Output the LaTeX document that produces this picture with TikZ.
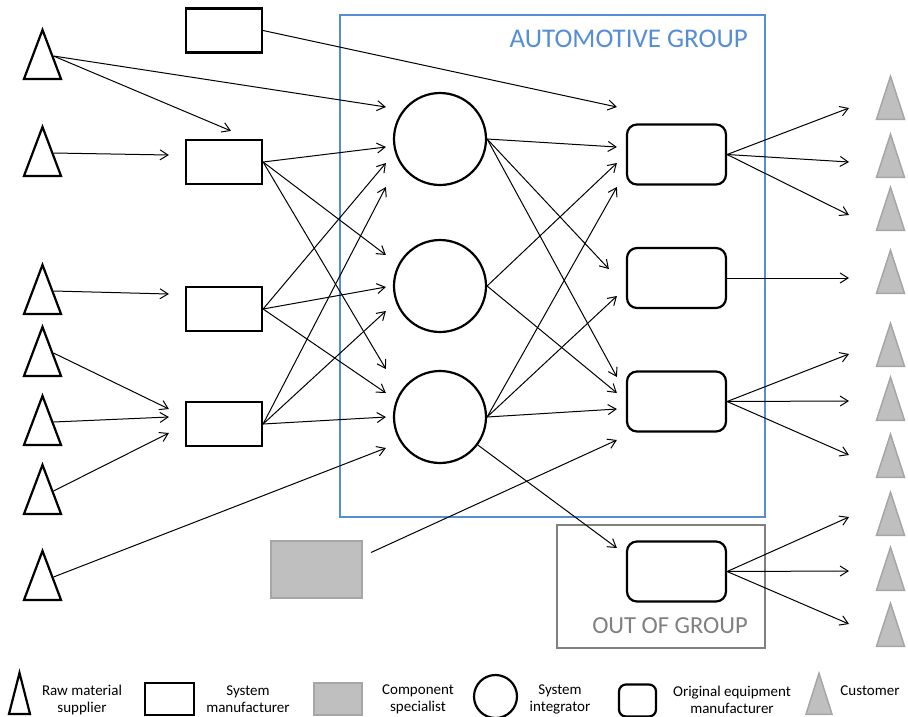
\documentclass[tikz,border=0pt]{standalone}
\usepackage{fontspec}
\setmainfont{Carlito}
\usepackage{tikz}
\usetikzlibrary{arrows.meta,shapes.geometric,positioning,calc}
\definecolor{autoblue}{RGB}{85,142,213}
\definecolor{outgray}{RGB}{128,128,128}
\definecolor{custfill}{RGB}{191,191,191}
\definecolor{custline}{RGB}{166,166,166}

\begin{document}
\begin{tikzpicture}[x=1pt,y=-1pt,>={Straight Barb[length=8pt,width=10pt]},
    rawsup/.style={draw, line width=2.2pt, isosceles triangle, isosceles triangle stretches,
      shape border rotate=90, minimum width=37pt, minimum height=49pt, inner sep=0pt, anchor=lower side},
    sysman/.style={draw, line width=2.2pt, minimum width=76pt, minimum height=44pt, inner sep=0pt},
    compspec/.style={draw=custline, fill=custfill, line width=2pt, minimum width=91pt, minimum height=57pt, inner sep=0pt},
    sysint/.style={draw, circle, line width=2.2pt, minimum size=92pt, inner sep=0pt},
    oem/.style={draw, line width=2.2pt, rounded corners=10pt, minimum width=99pt, minimum height=60pt, inner sep=0pt},
    cust/.style={draw=custline, fill=custfill, line width=1.5pt, isosceles triangle, isosceles triangle stretches,
      shape border rotate=90, minimum width=28pt, minimum height=43pt, inner sep=0pt, anchor=lower side},
    grpbox/.style={line width=2.5pt, inner sep=0pt},
    grplabel/.style={inner sep=0pt, anchor=east},
    legtext/.style={font=\fontsize{15}{17}\selectfont, align=center, inner sep=0pt},
    link/.style={->, line width=1pt}]
  \useasboundingbox (0,0) rectangle (908,716);

  % groups
  \node[grpbox, draw=autoblue, minimum width=425pt, minimum height=502pt] (grp) at (552.5,266) {};
  \node[grpbox, draw=outgray, minimum width=208pt, minimum height=123pt] (ogrp) at (661,586.5) {};
  \node[grplabel, text=autoblue, font=\fontsize{27}{29}\selectfont] (grplbl) at (748,39) {AUTOMOTIVE GROUP};
  \node[grplabel, text=outgray, font=\fontsize{24.5}{26}\selectfont] (ogrplbl) at (748,625.5) {OUT OF GROUP};

  % raw material suppliers (placed by base)
  \node[rawsup] (r1) at (42.5,80) {};
  \node[rawsup] (r2) at (42.5,177) {};
  \node[rawsup] (r3) at (42.5,315) {};
  \node[rawsup] (r4) at (42.5,377) {};
  \node[rawsup] (r5) at (42.5,446) {};
  \node[rawsup] (r6) at (42.5,515) {};
  \node[rawsup] (r7) at (42.5,601) {};

  % system manufacturers
  \node[sysman] (sm0) at (224,30.5) {};
  \node[sysman] (sm1) at (224,162) {};
  \node[sysman] (sm2) at (224,309) {};
  \node[sysman] (sm3) at (224,424) {};
  \node[compspec] (cs) at (316.5,569.5) {};

  % system integrators
  \node[sysint] (si1) at (440,139) {};
  \node[sysint] (si2) at (440,286) {};
  \node[sysint] (si3) at (440,417) {};

  % oems
  \node[oem] (oem1) at (676.5,154.5) {};
  \node[oem] (oem2) at (676.5,278) {};
  \node[oem] (oem3) at (676.5,401.5) {};
  \node[oem] (oem4) at (676.5,571.5) {};

  % customers (placed by base)
  \node[cust] (c1) at (890.5,120) {};
  \node[cust] (c2) at (890.5,178) {};
  \node[cust] (c3) at (890.5,231) {};
  \node[cust] (c4) at (890.5,294) {};
  \node[cust] (c5) at (890.5,367) {};
  \node[cust] (c6) at (890.5,421) {};
  \node[cust] (c7) at (890.5,478) {};
  \node[cust] (c8) at (890.5,536) {};
  \node[cust] (c9) at (890.5,591) {};
  \node[cust] (c10) at (890.5,647) {};

  % suppliers -> manufacturers / integrators
  \draw[link] ([shift={(11,-24)}]r1.lower side) -- ([shift={(-7,-32)}]si1.west);
  \draw[link] ([shift={(11,-24)}]r1.lower side) -- ([shift={(7,-8)}]sm1.north);
  \draw[link] ([shift={(11,-24)}]r2.lower side) -- ([shift={(-16,-7)}]sm1.west);
  \draw[link] ([shift={(11,-24)}]r3.lower side) -- ([shift={(-16,-15)}]sm2.west);
  \draw[link] ([shift={(11,-24)}]r4.lower side) -- ([shift={(-16,-15)}]sm3.west);
  \draw[link] ([shift={(11,-24)}]r5.lower side) -- ([shift={(-16,-7)}]sm3.west);
  \draw[link] ([shift={(11,-24)}]r6.lower side) -- ([shift={(-16,9)}]sm3.west);
  \draw[link] ([shift={(11,-24)}]r7.lower side) -- ([shift={(-7,31)}]si3.west);

  \draw[link] (sm0.east) -- ([shift={(-9,-47.5)}]oem1.west);
  \draw[link] (sm1.east) -- ([shift={(-7,8)}]si1.west);
  \draw[link] (sm1.east) -- ([shift={(-7,-31)}]si2.west);
  \draw[link] (sm1.east) -- ([shift={(-7,-48)}]si3.west);
  \draw[link] (sm2.east) -- ([shift={(-7,24)}]si1.west);
  \draw[link] (sm2.east) -- ([shift={(-7,1)}]si2.west);
  \draw[link] (sm2.east) -- ([shift={(-7,-24)}]si3.west);
  \draw[link] (sm3.east) -- ([shift={(-7,48)}]si1.west);
  \draw[link] (sm3.east) -- ([shift={(-7,25)}]si2.west);
  \draw[link] (sm3.east) -- ([shift={(-7,0)}]si3.west);
  \draw[link] ([shift={(8,-17)}]cs.east) -- ([shift={(-9,38.5)}]oem3.west);

  % integrators -> oems
  \draw[link] (si1.east) -- ([shift={(-9,-7.5)}]oem1.west);
  \draw[link] (si1.east) -- ([shift={(-17,-9)}]oem2.west);
  \draw[link] (si1.east) -- ([shift={(-9,-24.5)}]oem3.west);
  \draw[link] (si2.east) -- ([shift={(-9,8.5)}]oem1.west);
  \draw[link] (si2.east) -- ([shift={(-9,-8.5)}]oem3.west);
  \draw[link] (si3.east) -- ([shift={(-9,32.5)}]oem1.west);
  \draw[link] (si3.east) -- ([shift={(-9,18)}]oem2.west);
  \draw[link] (si3.east) -- ([shift={(-9,7.5)}]oem3.west);
  \draw[link] (si3) -- ([shift={(-9,-23.5)}]oem4.west);

  % oems -> customers
  \draw[link] (oem1.east) -- ([shift={(-41.5,-12)}]c1.lower side);
  \draw[link] (oem1.east) -- ([shift={(-41.5,-16)}]c2.lower side);
  \draw[link] (oem1.east) -- ([shift={(-41.5,-16)}]c3.lower side);
  \draw[link] (oem2.east) -- ([shift={(-41.5,-16)}]c4.lower side);
  \draw[link] (oem3.east) -- ([shift={(-41.5,-13)}]c5.lower side);
  \draw[link] (oem3.east) -- ([shift={(-41.5,-20)}]c6.lower side);
  \draw[link] (oem3.east) -- ([shift={(-41.5,-23)}]c7.lower side);
  \draw[link] (oem4.east) -- ([shift={(-41.5,-19)}]c8.lower side);
  \draw[link] (oem4.east) -- ([shift={(-41.5,-20)}]c9.lower side);
  \draw[link] (oem4.east) -- ([shift={(-41.5,-23)}]c10.lower side);

  % legend
  \node[rawsup, minimum width=21pt, minimum height=41pt] (lraw) at (19.5,715) {};
  \node[legtext] (lrawtxt) at (82,699.5) {Raw material\\supplier};
  \node[sysman, minimum width=49pt, minimum height=32pt] (lsm) at (169.5,699) {};
  \node[legtext] (lsmtxt) at (248,699.5) {System\\manufacturer};
  \node[compspec, minimum width=48pt, minimum height=32pt] (lcs) at (338,699) {};
  \node[legtext] (lcstxt) at (418,699.5) {Component\\specialist};
  \node[sysint, minimum size=43pt] (lsi) at (495.5,696.5) {};
  \node[legtext] (lsitxt) at (560,699.5) {System\\integrator};
  \node[oem, minimum width=37pt, minimum height=32pt, rounded corners=7pt] (loem) at (637.5,700.5) {};
  \node[legtext] (loemtxt) at (732,699.5) {Original equipment\\manufacturer};
  \node[cust, minimum width=26pt, minimum height=41pt] (lcust) at (819,715) {};
  \node[legtext] (lcusttxt) at (870,691) {Customer};
\end{tikzpicture}
\end{document}
